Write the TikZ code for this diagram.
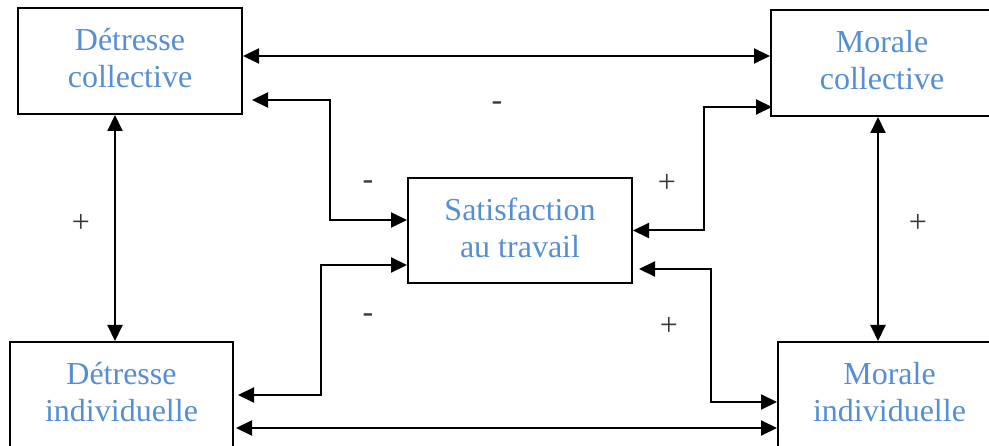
\documentclass[tikz,border=0pt]{standalone}
\usepackage{fontspec}
\setmainfont{Liberation Serif}
\usetikzlibrary{arrows.meta}
\definecolor{txtblue}{RGB}{85,142,213}
\definecolor{signgray}{RGB}{55,55,55}
\tikzset{
  box/.style={draw, line width=2pt, align=center, text=txtblue, inner sep=0pt,
    font=\fontsize{32}{36.8}\selectfont},
  conn/.style={line width=2pt, {Triangle[length=16pt,width=15pt]}-{Triangle[length=16pt,width=15pt]}},
  sign/.style={anchor=base, text=signgray, inner sep=0pt, font=\fontsize{32}{36.8}\selectfont}
}
\newcommand{\lowstrut}{\rule[-6pt]{0pt}{6pt}}
\begin{document}
\begin{tikzpicture}[x=1pt,y=-1pt]
\useasboundingbox (0,0) rectangle (989,446);
\clip (0,0) rectangle (989,446);
\node[box, minimum width=224pt, minimum height=106pt] (DC) at (130,61) {Détresse\\collective\lowstrut};
\node[box, minimum width=222pt, minimum height=106pt] (MC) at (882,63) {Morale\\collective\lowstrut};
\node[box, minimum width=223pt, minimum height=106pt] (DI) at (121.5,395) {Détresse\\individuelle\lowstrut};
\node[box, minimum width=223pt, minimum height=106pt] (MI) at (889.5,395) {Morale\\individuelle\lowstrut};
\node[box, minimum width=224pt, minimum height=105pt] (SAT) at (520,230.5) {Satisfaction\\au travail\lowstrut};
% connectors
\draw[conn] ([yshift=5pt]DC.east) -- ([yshift=7pt]MC.west);
\draw[conn] ([xshift=9pt,yshift=-39pt]DC.east) -- ++(78,0) |- ([yshift=10.5pt]SAT.west);
\draw[conn] ([yshift=-34.5pt]SAT.west) -- ++(-86,0) |- ([xshift=4pt]DI.east);
\draw[conn] ([xshift=2pt,yshift=-33pt]DI.east) -- ([yshift=-33pt]MI.west);
\draw[conn] (SAT.east) -- ++(71,0) |- ([xshift=2pt,yshift=-44pt]MC.west);
\draw[conn] ([xshift=6pt,yshift=-38.5pt]SAT.east) -- ++(72,0) |- ([yshift=-7pt]MI.west);
\draw[conn] ([xshift=-15pt]DC.south) -- ([xshift=-6.5pt]DI.north);
\draw[conn] ([xshift=-4pt]MC.south) -- ([xshift=-11.5pt]MI.north);
% signs
\node[sign] (s1) at (497,111) {-};
\node[sign] (s2) at (368,190) {-};
\node[sign] (s3) at (667,193) {+};
\node[sign] (s4) at (368,323) {-};
\node[sign] (s5) at (669,336) {+};
\node[sign] (s6) at (81,233) {+};
\node[sign] (s7) at (918,233) {+};
\end{tikzpicture}
\end{document}
